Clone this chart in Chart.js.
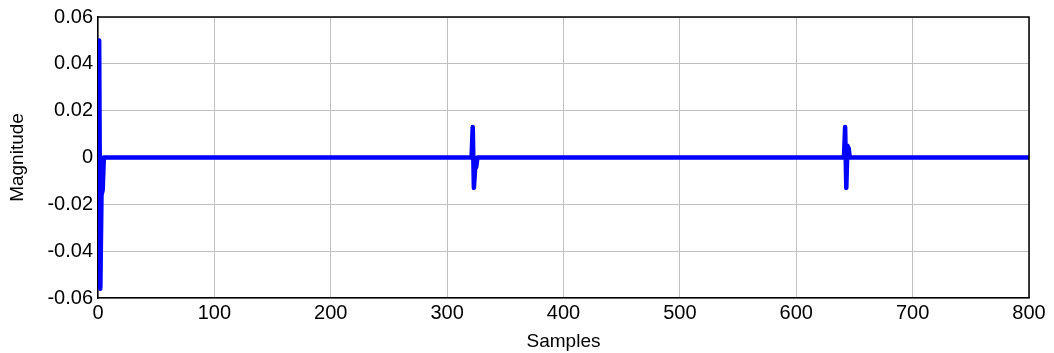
<!DOCTYPE html>
<html>
<head>
<meta charset="utf-8">
<script src="https://cdn.jsdelivr.net/npm/chart.js@4"></script>
<style>
  html, body { margin: 0; padding: 0; background: #fff; }
  #wrap { width: 1054px; height: 353px; }
</style>
</head>
<body>
<div id="wrap"><canvas id="sig"></canvas></div>
<script>
// sample indices and magnitudes (zero between spikes)
const samples = [0, 1, 2, 3, 4, 5, 321, 322, 323, 324, 325, 326, 641, 642, 643, 644, 645, 646, 800];
const magnitude = [0, 0.05, -0.056, -0.016, -0.014, 0, 0, 0.013, -0.013, -0.005, -0.004, 0, 0, 0.013, -0.013, 0.005, 0.004, 0, 0];
const xTicks = [0, 100, 200, 300, 400, 500, 600, 700, 800];
const yTicks = [-0.06, -0.04, -0.02, 0, 0.02, 0.04, 0.06];

const font = "'Liberation Sans', Arial, sans-serif";

new Chart(document.getElementById('sig'), {
    type: 'line',
    data: {
        datasets: [{
            data: samples.map((s, i) => ({ x: s, y: magnitude[i] })),
            borderColor: '#0000ff',
            borderWidth: 4.5,
            borderCapStyle: 'round',
            borderJoinStyle: 'round',
            pointRadius: 0,
            tension: 0
        }]
    },
    options: {
        responsive: true,
        maintainAspectRatio: false,
        animation: false,
        layout: { padding: { top: 17, right: 25, left: 0, bottom: 0 } },
        plugins: { legend: { display: false }, tooltip: { enabled: false } },
        scales: {
            x: {
                type: 'linear',
                min: 0, max: 800,
                afterBuildTicks: s => { s.ticks = xTicks.map(v => ({ value: v })); },
                afterFit: s => { s.height = 55; },
                grid: { color: '#c0c0c0', drawTicks: false },
                border: { color: '#000', width: 1.5 },
                ticks: { color: '#000', font: { family: font, size: 20 }, padding: 3, maxRotation: 0 },
                title: { display: true, text: 'Samples', color: '#000', font: { family: font, size: 19 }, padding: 0 }
            },
            y: {
                min: -0.06, max: 0.06,
                afterBuildTicks: s => { s.ticks = yTicks.map(v => ({ value: v })); },
                afterFit: s => { s.width = 98; },
                grid: { color: '#c0c0c0', drawTicks: false },
                border: { color: '#000', width: 1.5 },
                ticks: {
                    color: '#000', font: { family: font, size: 20 }, padding: 5,
                    callback: v => Math.abs(v) < 1e-9 ? '0' : v.toFixed(2)
                },
                title: { display: true, text: 'Magnitude', color: '#000', font: { family: font, size: 19 }, padding: { top: 6, bottom: 0 } }
            }
        }
    },
    plugins: [{
        // close the box on top and right like the original axes
        id: 'box',
        afterDraw(chart) {
            const { ctx, chartArea: a } = chart;
            ctx.save();
            ctx.strokeStyle = '#000';
            ctx.lineWidth = 1.5;
            ctx.beginPath();
            ctx.moveTo(a.left, a.top);
            ctx.lineTo(a.right, a.top);
            ctx.lineTo(a.right, a.bottom);
            ctx.stroke();
            ctx.restore();
        }
    }]
});
</script>
</body>
</html>
